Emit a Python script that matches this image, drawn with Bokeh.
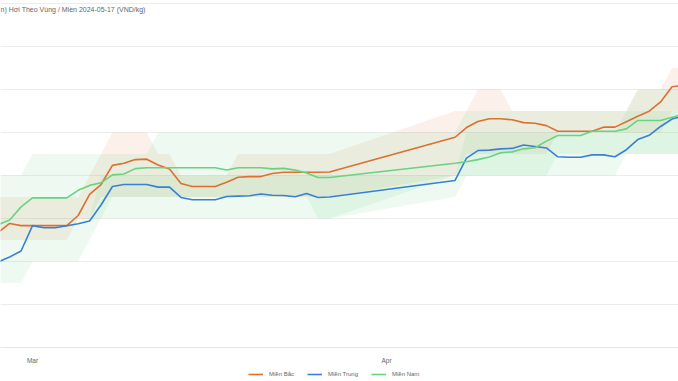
import pandas as pd
from bokeh.plotting import figure
from bokeh.layouts import column
from bokeh.models import (Range1d, FixedTicker, DatetimeTickFormatter, Legend, LegendItem,
                          Label, ColumnDataSource, Grid)
from bokeh.embed import file_html
from bokeh.resources import INLINE

# ---------------- data ----------------
dates = ["2024-02-27", "2024-02-28", "2024-02-29",
         "2024-03-01", "2024-03-02", "2024-03-03", "2024-03-04", "2024-03-05", "2024-03-06",
         "2024-03-07", "2024-03-08", "2024-03-09", "2024-03-10", "2024-03-11", "2024-03-12",
         "2024-03-13", "2024-03-14", "2024-03-15", "2024-03-16", "2024-03-17", "2024-03-18",
         "2024-03-19", "2024-03-20", "2024-03-21", "2024-03-22", "2024-03-23", "2024-03-24",
         "2024-03-25", "2024-03-26", "2024-03-27",
         "2024-04-07", "2024-04-08", "2024-04-09", "2024-04-10", "2024-04-11", "2024-04-12",
         "2024-04-13", "2024-04-14", "2024-04-15", "2024-04-16", "2024-04-17", "2024-04-18",
         "2024-04-19", "2024-04-20", "2024-04-21", "2024-04-22", "2024-04-23", "2024-04-24",
         "2024-04-25", "2024-04-26", "2024-04-27"]

mien_bac = [57350, 57770, 57670, 57670, 57670, 57670, 57670, 58140, 59120, 59580,
            60470, 60570, 60740, 60760, 60490, 60300, 59630, 59490, 59490, 59490,
            59690, 59920, 59950, 59950, 60090, 60150, 60150, 60150, 60150, 60160,
            61780, 62230, 62510, 62640, 62640, 62590, 62460, 62430, 62320, 62060,
            62060, 62060, 62060, 62250, 62250, 62500, 62760, 62990, 63420, 64130, 64190]
mien_trung = [55980, 56210, 56490, 57670, 57570, 57570, 57660, 57760, 57880, 58630,
              59490, 59580, 59580, 59580, 59460, 59460, 58980, 58870, 58870, 58870,
              59020, 59040, 59060, 59140, 59080, 59070, 59010, 59160, 58980, 59000,
              59770, 60810, 61160, 61180, 61240, 61260, 61420, 61350, 61280, 60870,
              60850, 60850, 60960, 60960, 60870, 61200, 61670, 61870, 62280, 62630, 62770]
mien_nam = [57720, 57930, 58540, 58960, 58960, 58960, 58960, 59310, 59540, 59660,
            60030, 60070, 60320, 60360, 60360, 60360, 60360, 60360, 60360, 60360,
            60260, 60360, 60360, 60360, 60310, 60330, 60250, 60120, 59910, 59910,
            60570, 60640, 60740, 60860, 61060, 61100, 61240, 61290, 61600, 61860,
            61860, 61860, 62060, 62060, 62060, 62170, 62560, 62560, 62560, 62710, 62840]

# min / max ranges per region
bac_min = [57000, 57000, 57000, 57000, 57000, 57000, 57000, 58000, 58000, 59000,
           59000, 59000, 59000, 59000, 59000, 59000, 59000, 59000, 59000, 59000,
           59000, 59000, 59000, 59000, 59000, 59000, 59000, 59000, 59000, 59000,
           60000, 61000, 61000, 61000, 61000, 61000, 61000, 61000, 61000, 62000,
           62000, 62000, 62000, 62000, 62000, 62000, 62000, 62000, 62000, 63000, 63000]
bac_max = [59000, 59000, 59000, 59000, 59000, 59000, 59000, 59000, 60000, 61000,
           62000, 62000, 62000, 62000, 61000, 61000, 60000, 60000, 60000, 60000,
           60000, 61000, 61000, 61000, 61000, 61000, 61000, 61000, 61000, 61000,
           63000, 63000, 64000, 64000, 64000, 63000, 63000, 63000, 63000, 63000,
           63000, 63000, 63000, 63000, 63000, 63000, 64000, 64000, 64000, 65000, 65000]
trung_min = [55000, 55000, 55000, 56000, 56000, 56000, 56000, 56000, 57000, 58000,
             58000, 58000, 58000, 58000, 58000, 58000, 58000, 58000, 58000, 58000,
             58000, 58000, 58000, 58000, 58000, 58000, 58000, 58000, 58000, 58000,
             59000, 60000, 60000, 60000, 60000, 60000, 60000, 60000, 60000, 60000,
             60000, 60000, 60000, 60000, 60000, 61000, 61000, 61000, 61000, 61000, 61000]
trung_max = [57000, 57000, 57000, 58000, 58000, 58000, 58000, 58000, 58000, 60000,
             60000, 60000, 60000, 60000, 60000, 60000, 60000, 60000, 60000, 60000,
             60000, 60000, 60000, 60000, 60000, 60000, 60000, 60000, 60000, 60000,
             60000, 62000, 62000, 62000, 62000, 62000, 62000, 62000, 62000, 62000,
             62000, 62000, 62000, 62000, 62000, 63000, 63000, 63000, 63000, 63000, 63000]
nam_min = [57000, 57000, 57000, 58000, 58000, 58000, 58000, 58000, 58000, 58000,
           59000, 59000, 59000, 59000, 59000, 59000, 59000, 59000, 59000, 59000,
           59000, 59000, 59000, 59000, 59000, 59000, 59000, 59000, 58000, 58000,
           60000, 60000, 60000, 60000, 60000, 60000, 60000, 60000, 60000, 61000,
           61000, 61000, 61000, 61000, 61000, 61000, 61000, 61000, 61000, 61000, 61000]
nam_max = [60000, 60000, 60000, 61000, 61000, 61000, 61000, 61000, 61000, 61000,
           61000, 61000, 61000, 61000, 62000, 62000, 62000, 62000, 62000, 62000,
           62000, 62000, 62000, 62000, 62000, 62000, 62000, 62000, 62000, 62000,
           62000, 63000, 63000, 63000, 63000, 63000, 63000, 63000, 63000, 63000,
           63000, 63000, 63000, 63000, 63000, 63000, 64000, 64000, 64000, 64000, 64000]

y_ticks = [52000, 54000, 56000, 58000, 60000, 62000, 64000, 66000, 68000]
x_ticks = ["2024-03-01", "2024-04-01"]
title_text = "n) Hơi Theo Vùng / Miền 2024-05-17 (VND/kg)"
series_names = ["Miền Bắc", "Miền Trung", "Miền Nam"]

src = ColumnDataSource(dict(
    date=pd.to_datetime(dates), bac=mien_bac, trung=mien_trung, nam=mien_nam,
    bac_min=bac_min, bac_max=bac_max, trung_min=trung_min, trung_max=trung_max,
    nam_min=nam_min, nam_max=nam_max))

ORANGE = "#dc7030"
BLUE = "#3a7fd6"
GREEN = "#66d480"
FONT = "Liberation Sans"

mar1 = pd.Timestamp("2024-03-01")
x_start = mar1 + pd.Timedelta(days=-2.802)
x_end = mar1 + pd.Timedelta(days=56.567)

# ---------------- main chart ----------------
p = figure(width=678, height=366, output_backend="svg", toolbar_location=None,
           x_axis_type="datetime", y_axis_location=None,
           x_range=Range1d(x_start, x_end), y_range=Range1d(52000, 68140),
           min_border_left=0, min_border_right=0, min_border_top=0, min_border_bottom=19)
p.outline_line_color = None
p.background_fill_color = "white"
p.border_fill_color = "white"
p.xgrid.visible = False
p.ygrid.visible = False
p.add_layout(Grid(dimension=1, ticker=FixedTicker(ticks=y_ticks),
                  grid_line_color="#ececec", grid_line_width=1))

# bands
p.varea(x="date", y1="bac_min", y2="bac_max", source=src, fill_color=ORANGE, fill_alpha=0.1)
p.varea(x="date", y1="trung_min", y2="trung_max", source=src, fill_color=GREEN, fill_alpha=0.11)
p.varea(x="date", y1="nam_min", y2="nam_max", source=src, fill_color=GREEN, fill_alpha=0.11)

p.line(x="date", y="bac", source=src, line_color=ORANGE, line_width=1.6)
p.line(x="date", y="trung", source=src, line_color=BLUE, line_width=1.6)
p.line(x="date", y="nam", source=src, line_color=GREEN, line_width=1.6)

xa = p.xaxis[0]
xa.ticker = FixedTicker(ticks=[pd.Timestamp(t).value // 10**6 for t in x_ticks])
xa.formatter = DatetimeTickFormatter(days="%b", months="%b", years="%b", hours="%b",
                                     minutes="%b", seconds="%b", milliseconds="%b",
                                     microseconds="%b", minsec="%b", hourmin="%b")
xa.axis_line_color = "#e6e6e6"
xa.major_tick_line_color = None
xa.minor_tick_line_color = None
xa.major_label_text_font_size = "6.5px"
xa.major_label_text_color = "#666666"
xa.major_label_text_font = FONT
xa.major_label_standoff = 3

title = Label(x=0, y=338.5, x_units="screen", y_units="screen", text=title_text,
              text_font=FONT, text_font_size="7px", text_color="#666666",
              text_baseline="middle", text_align="left")
p.add_layout(title)

# ---------------- legend strip ----------------
# the same series are drawn here but outside the visible range, only to key the legend
lg = figure(width=678, height=15, output_backend="svg", toolbar_location=None,
            x_axis_location=None, y_axis_location=None,
            x_range=Range1d(0, 1), y_range=Range1d(0, 1),
            min_border_left=0, min_border_right=0, min_border_top=0, min_border_bottom=0)
lg.outline_line_color = None
lg.xgrid.visible = False
lg.ygrid.visible = False
lr = [lg.line(x="date", y=col, source=src, line_color=c, line_width=1.6)
      for col, c in (("bac", ORANGE), ("trung", BLUE), ("nam", GREEN))]
legend = Legend(items=[LegendItem(label=n, renderers=[r]) for n, r in zip(series_names, lr)],
                orientation="horizontal", location=(248, 3),
                border_line_color=None, background_fill_alpha=0,
                label_text_font=FONT, label_text_font_size="6px", label_text_color="#666666",
                glyph_width=15, glyph_height=6, label_standoff=6, spacing=13,
                padding=0, margin=0, label_height=8)
lg.add_layout(legend)

layout = column(p, lg, spacing=0)
open("out.html", "w").write(file_html(layout, INLINE))
